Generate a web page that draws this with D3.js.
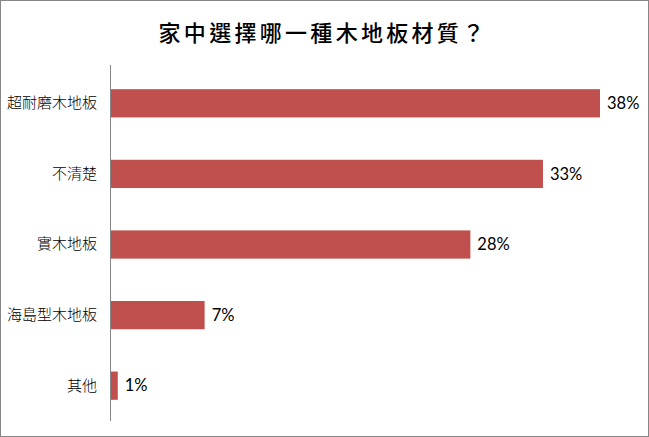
<!DOCTYPE html>
<html><head><meta charset="utf-8">
<script src="https://cdn.jsdelivr.net/npm/d3@7/dist/d3.min.js"></script>
<style>body{margin:0;background:#fff}svg{display:block}</style>
</head><body>
<script>
const categories = ["超耐磨木地板","不清楚","實木地板","海島型木地板","其他"];
const values = [37.8, 33.4, 27.8, 7.3, 0.6];
const title = "家中選擇哪一種木地板材質？";

const W = 649, H = 437;
const svg = d3.select("body").append("svg").attr("width", W).attr("height", H);
svg.append("rect").attr("x",0.5).attr("y",0.5).attr("width",W-1).attr("height",H-1)
  .attr("fill","#fff").attr("stroke","#868686");

const x = d3.scaleLinear().domain([0, 37.8]).range([110, 600]);
const y = d3.scaleBand().domain(categories).range([68, 421]).paddingInner(0.6).paddingOuter(0.3);

svg.append("text").attr("x", 323).attr("y", 41).attr("text-anchor","middle")
  .attr("font-family","'Noto Sans CJK TC'").attr("font-weight",500).attr("font-size",22)
  .attr("letter-spacing","3.3px")
  .attr("fill","#000").text(title);

svg.selectAll("rect.bar").data(values).join("rect").attr("class","bar")
  .attr("x", x(0)).attr("y",(d,i)=>y(categories[i]))
  .attr("width", d=>x(d)-x(0)).attr("height", y.bandwidth())
  .attr("fill","#C0504D");

svg.selectAll("text.val").data(values).join("text").attr("class","val")
  .attr("x", d=>x(d)+7).attr("y",(d,i)=>y(categories[i])+y.bandwidth()/2)
  .attr("dy","0.35em").attr("font-family","Lato, 'Open Sans'").attr("font-size",16.5)
  .attr("fill","#000").text(d=>Math.round(d)+"%");

const ax = svg.append("g").attr("transform",`translate(${x(0)},0)`)
  .call(d3.axisLeft(y).tickSize(0).tickPadding(13));
ax.select(".domain").attr("stroke","#868686").attr("d",`M0.5,${y.range()[0]-3}V${y.range()[1]}`);
ax.selectAll("text").attr("font-family","'Noto Sans CJK TC'").attr("font-weight",300).attr("font-size",15).attr("fill","#000");
</script>
</body></html>
